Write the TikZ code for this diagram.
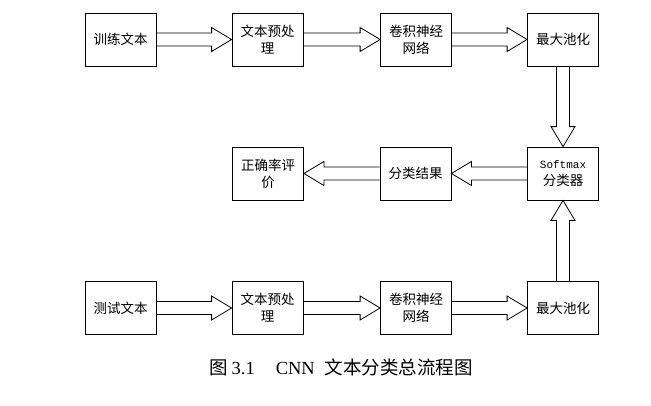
\documentclass[tikz,border=0pt]{standalone}
\usepackage{fontspec}
\setmainfont{Liberation Serif}
\newfontfamily\cjk{Noto Sans CJK SC}
\newfontfamily\monof{Liberation Mono}
\usetikzlibrary{calc}
\tikzset{
  box/.style={draw=black, line width=0.8pt, minimum width=71pt, minimum height=53pt,
    inner sep=0pt, align=center, font=\cjk\fontsize{13.5}{17}\selectfont},
  hollow/.style={draw=black, line width=0.8pt, line join=miter},
}
\newcommand{\hollowarr}[2]{%
  \path ($(#2)!20pt!(#1)$) coordinate (hb);
  \draw[hollow] ($(#1)!6.5pt!90:(#2)$) -- ($(hb)!6.5pt!-90:(#1)$) -- ($(hb)!12pt!-90:(#1)$)
    -- (#2) -- ($(hb)!12pt!90:(#1)$) -- ($(hb)!6.5pt!90:(#1)$) -- ($(#1)!6.5pt!-90:(#2)$);
}
\begin{document}
\begin{tikzpicture}[x=1pt,y=-1pt]
\fill[white] (0,0) rectangle (651,405);
\useasboundingbox (0,0) rectangle (651,405);
% row 1
\node[box] (train) at (120.5,39.5) {训练文本};
\node[box] (pre1) at (267.5,39.5) {文本预处\\理};
\node[box] (cnn1) at (416,39.5) {卷积神经\\网络};
\node[box] (mp1) at (563,39.5) {最大池化};
% row 2
\node[box] (sm) at (563,173.5) {{\monof\fontsize{11}{13}\selectfont Softmax}\\分类器};
\node[box] (res) at (415.5,173.5) {分类结果};
\node[box] (eval) at (268,173.5) {正确率评\\价};
% row 3
\node[box] (test) at (120.5,308) {测试文本};
\node[box] (pre2) at (267.5,308) {文本预处\\理};
\node[box] (cnn2) at (416,308) {卷积神经\\网络};
\node[box] (mp2) at (563,308) {最大池化};
% arrows
\hollowarr{train.east}{pre1.west}
\hollowarr{pre1.east}{cnn1.west}
\hollowarr{cnn1.east}{mp1.west}
\hollowarr{mp1.south}{sm.north}
\hollowarr{sm.west}{res.east}
\hollowarr{res.west}{eval.east}
\hollowarr{test.east}{pre2.west}
\hollowarr{pre2.east}{cnn2.west}
\hollowarr{cnn2.east}{mp2.west}
\hollowarr{mp2.north}{sm.south}
% caption
\node[font=\fontsize{18.5}{20}\selectfont] (cap) at (341,367)
  {{\cjk 图}\hspace{4pt}3.1\hspace{21pt}CNN\hspace{10pt}{\cjk 文本分类总流程图}};
\end{tikzpicture}
\end{document}
